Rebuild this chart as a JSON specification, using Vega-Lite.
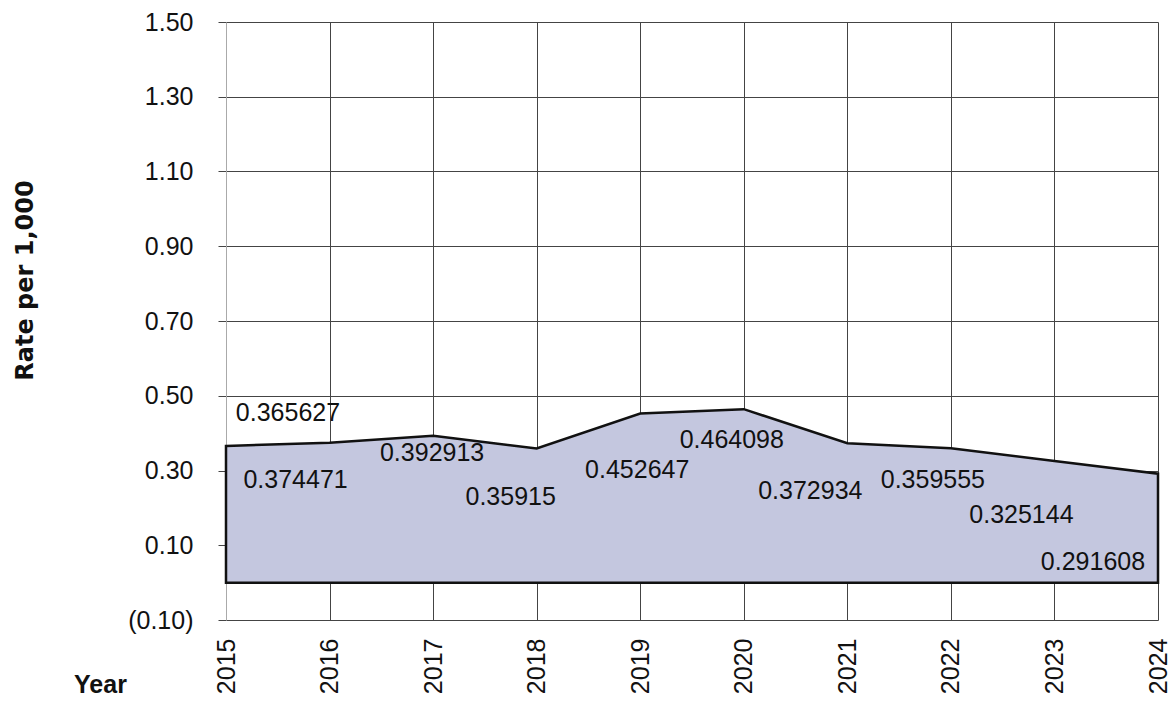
{
  "$schema": "https://vega.github.io/schema/vega-lite/v6.json",
  "width": 932,
  "height": 598,
  "autosize": "none",
  "padding": {"left": 226, "top": 22, "right": 17, "bottom": 87},
  "background": "white",
  "config": {
    "view": {"stroke": null},
    "font": "Liberation Sans",
    "text": {"font": "Liberation Sans"}
  },
  "data": {
    "values": [
      {"year": 2015, "rate": 0.365627},
      {"year": 2016, "rate": 0.374471},
      {"year": 2017, "rate": 0.392913},
      {"year": 2018, "rate": 0.35915},
      {"year": 2019, "rate": 0.452647},
      {"year": 2020, "rate": 0.464098},
      {"year": 2021, "rate": 0.372934},
      {"year": 2022, "rate": 0.359555},
      {"year": 2023, "rate": 0.325144},
      {"year": 2024, "rate": 0.291608}
    ]
  },
  "encoding": {
    "x": {
      "field": "year",
      "type": "quantitative",
      "scale": {"domain": [2015, 2024], "nice": false, "zero": false},
      "axis": {
        "values": [2015, 2016, 2017, 2018, 2019, 2020, 2021, 2022, 2023, 2024],
        "format": "d",
        "labelAngle": -90,
        "labelAlign": "right",
        "labelBaseline": "middle",
        "labelFont": "Liberation Sans",
        "labelFontSize": 25,
        "labelColor": "#111",
        "labelPadding": 18,
        "ticks": false,
        "domain": false,
        "grid": true,
        "gridColor": "#444",
        "gridWidth": 1,
        "title": "Year",
        "titleFont": "Liberation Sans",
        "titleFontSize": 25,
        "titleFontWeight": "bold",
        "titleColor": "#111",
        "titleAngle": 0,
        "titleAlign": "center",
        "titleBaseline": "alphabetic",
        "titleX": -126,
        "titleY": 72
      }
    },
    "y": {
      "field": "rate",
      "type": "quantitative",
      "scale": {"domain": [-0.1, 1.5], "nice": false, "zero": false},
      "axis": {
        "values": [-0.1, 0.1, 0.3, 0.5, 0.7, 0.9, 1.1, 1.3, 1.5],
        "labelExpr": "datum.value < 0 ? '(' + format(-datum.value, '.2f') + ')' : format(datum.value, '.2f')",
        "labelFont": "Liberation Sans",
        "labelFontSize": 25,
        "labelColor": "#111",
        "labelPadding": 25,
        "tickSize": 8,
        "tickColor": "#444",
        "domain": true,
        "domainColor": "#aaa",
        "grid": true,
        "gridColor": "#444",
        "gridWidth": 1,
        "title": "Rate per 1,000",
        "titleFont": "DejaVu Sans",
        "titleFontSize": 24,
        "titleFontWeight": "bold",
        "titleColor": "#111",
        "titleAngle": -90,
        "titleAlign": "center",
        "titleBaseline": "alphabetic",
        "titleX": -194,
        "titleY": 258
      }
    }
  },
  "layer": [
    {
      "mark": {"type": "area", "fill": "#c4c7df", "stroke": "#111", "strokeWidth": 2.5, "interpolate": "linear"}
    },
    {"transform": [{"filter": {"field": "year", "equal": 2015}}], "mark": {"type": "text", "fontSize": 25, "color": "#111", "baseline": "middle", "dx": 62, "dy": -33}, "encoding": {"text": {"field": "rate", "type": "nominal"}}},
    {"transform": [{"filter": {"field": "year", "equal": 2016}}], "mark": {"type": "text", "fontSize": 25, "color": "#111", "baseline": "middle", "dx": -34, "dy": 37}, "encoding": {"text": {"field": "rate", "type": "nominal"}}},
    {"transform": [{"filter": {"field": "year", "equal": 2017}}], "mark": {"type": "text", "fontSize": 25, "color": "#111", "baseline": "middle", "dx": -1, "dy": 17}, "encoding": {"text": {"field": "rate", "type": "nominal"}}},
    {"transform": [{"filter": {"field": "year", "equal": 2018}}], "mark": {"type": "text", "fontSize": 25, "color": "#111", "baseline": "middle", "dx": -26, "dy": 49}, "encoding": {"text": {"field": "rate", "type": "nominal"}}},
    {"transform": [{"filter": {"field": "year", "equal": 2019}}], "mark": {"type": "text", "fontSize": 25, "color": "#111", "baseline": "middle", "dx": -3, "dy": 57}, "encoding": {"text": {"field": "rate", "type": "nominal"}}},
    {"transform": [{"filter": {"field": "year", "equal": 2020}}], "mark": {"type": "text", "fontSize": 25, "color": "#111", "baseline": "middle", "dx": -12, "dy": 31}, "encoding": {"text": {"field": "rate", "type": "nominal"}}},
    {"transform": [{"filter": {"field": "year", "equal": 2021}}], "mark": {"type": "text", "fontSize": 25, "color": "#111", "baseline": "middle", "dx": -37, "dy": 48}, "encoding": {"text": {"field": "rate", "type": "nominal"}}},
    {"transform": [{"filter": {"field": "year", "equal": 2022}}], "mark": {"type": "text", "fontSize": 25, "color": "#111", "baseline": "middle", "dx": -18, "dy": 32}, "encoding": {"text": {"field": "rate", "type": "nominal"}}},
    {"transform": [{"filter": {"field": "year", "equal": 2023}}], "mark": {"type": "text", "fontSize": 25, "color": "#111", "baseline": "middle", "dx": -33, "dy": 54}, "encoding": {"text": {"field": "rate", "type": "nominal"}}},
    {"transform": [{"filter": {"field": "year", "equal": 2024}}], "mark": {"type": "text", "fontSize": 25, "color": "#111", "baseline": "middle", "dx": -65, "dy": 88}, "encoding": {"text": {"field": "rate", "type": "nominal"}}}
  ]
}
